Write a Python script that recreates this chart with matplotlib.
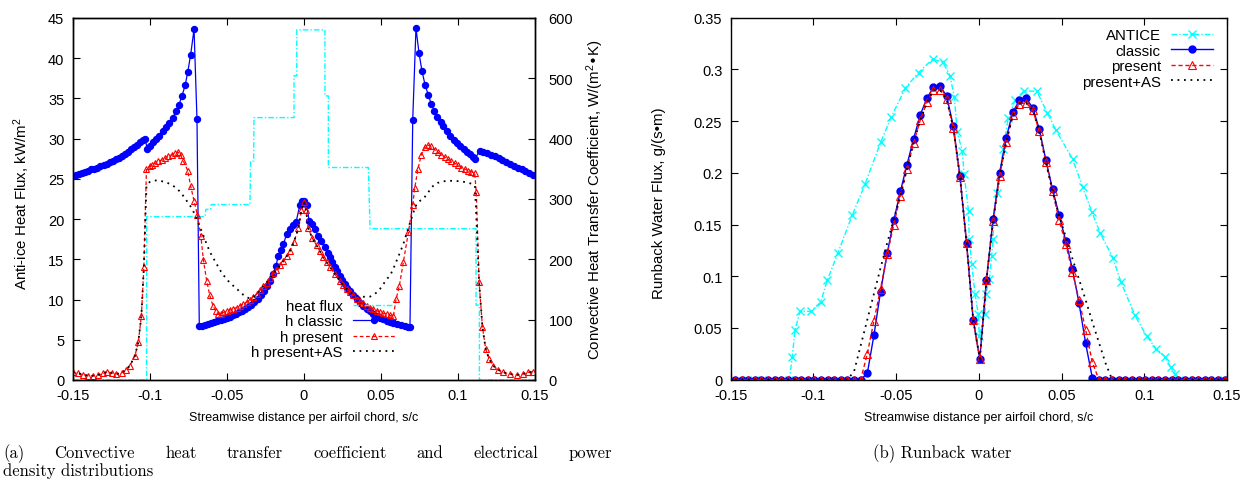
import matplotlib
matplotlib.use("Agg")
import matplotlib.pyplot as plt

plt.rcParams['font.family'] = ['Liberation Sans', 'DejaVu Sans']
plt.rcParams['mathtext.default'] = 'regular'
plt.rcParams['axes.unicode_minus'] = False

# ---------------------------------------- #
#   (a) heat flux and h over the airfoil   #
# ---------------------------------------- #
# heater power density, kW/m^2 (step profile)
flux_x = [-0.150, -0.1020, -0.1020, -0.0641, -0.0635, -0.0605, -0.0600, -0.0349, -0.0345, -0.0325,
          -0.0323, -0.0063, -0.0063, -0.0045, -0.0045, 0.0138, 0.0138, 0.0160, 0.0160, 0.0420,
          0.0431, 0.1119, 0.1119, 0.1141, 0.1141, 0.150]
flux_y = [0, 0, 20.3, 20.3, 21.2, 21.2, 21.8, 21.8, 27.2, 27.2,
          32.6, 32.6, 37.8, 37.8, 43.5, 43.5, 35.3, 35.3, 26.4, 26.4,
          18.8, 18.8, 9.3, 9.3, 0, 0]

# h classic, W/(m^2 K)
hc_x = [-0.150, -0.148, -0.146, -0.144, -0.142, -0.140, -0.138, -0.136, -0.134, -0.132,
        -0.130, -0.128, -0.126, -0.124, -0.122, -0.120, -0.118, -0.116, -0.114, -0.112,
        -0.110, -0.108, -0.106, -0.1045, -0.1030, -0.1016, -0.0998, -0.0977, -0.0956, -0.0938,
        -0.0916, -0.0894, -0.0873, -0.0851, -0.0831, -0.0810, -0.0790, -0.0770, -0.0753, -0.0734,
        -0.0712, -0.0693, -0.0678, -0.0660, -0.0640, -0.0620, -0.0600, -0.0580, -0.0560, -0.0540,
        -0.0520, -0.0500, -0.0480, -0.0460, -0.0440, -0.0420, -0.0400, -0.0380, -0.0360, -0.0340,
        -0.0320, -0.0300, -0.0280, -0.0260, -0.0240, -0.0220, -0.0200, -0.0180, -0.0165, -0.0150,
        -0.0132, -0.0110, -0.0089, -0.0070, -0.0050, -0.0025, -0.0010, 0.0005, 0.0020, 0.0035,
        0.0052, 0.0073, 0.0094, 0.0115, 0.0137, 0.0155, 0.0169, 0.0185, 0.0202, 0.0218,
        0.0234, 0.0250, 0.0267, 0.0284, 0.0300, 0.0320, 0.0343, 0.0365, 0.0387, 0.0409,
        0.0430, 0.0452, 0.0474, 0.0496, 0.0518, 0.0539, 0.0560, 0.0582, 0.0604, 0.0630,
        0.0658, 0.0680, 0.0690, 0.0708, 0.0729, 0.0749, 0.0768, 0.0788, 0.0809, 0.0827,
        0.0848, 0.0868, 0.0890, 0.0907, 0.0930, 0.0953, 0.0975, 0.0997, 0.1018, 0.1040,
        0.1060, 0.1080, 0.1100, 0.1112, 0.1143, 0.1165, 0.1190, 0.1215, 0.1240, 0.1265,
        0.1290, 0.1315, 0.1340, 0.1365, 0.1390, 0.1415, 0.1440, 0.1465, 0.1490]
hc_y = [338, 339, 341, 343, 345, 347, 349, 350, 352, 354,
        356, 358, 361, 363, 366, 368, 371, 374, 378, 382,
        386, 390, 394, 397, 399, 383, 388, 394, 399, 405,
        412, 419, 426, 434, 445, 456, 471, 488, 510, 539,
        581, 432, 89, 90, 91, 92.5, 94, 95.5, 97, 99,
        101, 103, 105, 107, 109, 112, 114.5, 117.5, 121, 125,
        129, 134, 140, 147, 155, 164, 175, 189, 206, 215,
        225, 242, 250, 256, 261, 290, 297, 297, 290, 264,
        258, 250, 239, 231, 220, 211, 203, 195, 187, 180,
        173, 166, 159, 153, 148, 141, 134, 128, 122, 117.5,
        113.5, 110, 106.5, 103.5, 100.5, 98, 96, 94.5, 93, 91,
        89, 87.5, 87, 431, 583, 541, 512, 489, 472, 458,
        446, 436, 427, 420, 412, 405, 398, 392, 388, 383,
        378, 374, 369, 366, 380, 378, 376, 373, 370.5, 367.5,
        364, 361, 358, 355, 352, 349, 346, 343, 340]

# h present
hp_x = [-0.1500, -0.1464, -0.1431, -0.1399, -0.1366, -0.1334, -0.1301, -0.1275, -0.1247, -0.1216,
        -0.1183, -0.1155, -0.1128, -0.1096, -0.1074, -0.1054, -0.1038, -0.1021, -0.1000, -0.0987,
        -0.0966, -0.0944, -0.0922, -0.0901, -0.0879, -0.0857, -0.0836, -0.0814, -0.0799, -0.0782,
        -0.0753, -0.0734, -0.0712, -0.0690, -0.0668, -0.0651, -0.0630, -0.0610, -0.0589, -0.0570,
        -0.0556, -0.0540, -0.0522, -0.0500, -0.0479, -0.0457, -0.0435, -0.0413, -0.0392, -0.0370,
        -0.0349, -0.0327, -0.0305, -0.0283, -0.0262, -0.0240, -0.0219, -0.0198, -0.0177, -0.0155,
        -0.0132, -0.0110, -0.0089, -0.0063, -0.0035, -0.0015, 0.0000, 0.0015, 0.0030, 0.0056,
        0.0084, 0.0106, 0.0127, 0.0149, 0.0171, 0.0203, 0.0236, 0.0258, 0.0279, 0.0300,
        0.0322, 0.0344, 0.0366, 0.0387, 0.0409, 0.0430, 0.0452, 0.0474, 0.0496, 0.0517,
        0.0539, 0.0560, 0.0582, 0.0600, 0.0621, 0.0647, 0.0680, 0.0708, 0.0721, 0.0742,
        0.0764, 0.0786, 0.0807, 0.0829, 0.0851, 0.0872, 0.0894, 0.0916, 0.0937, 0.0959,
        0.0981, 0.1002, 0.1024, 0.1045, 0.1067, 0.1089, 0.1110, 0.1121, 0.1139, 0.1161,
        0.1182, 0.1204, 0.1230, 0.1263, 0.1295, 0.1339, 0.1382, 0.1426, 0.1458, 0.1491]
hp_y = [12.7, 11, 8.8, 7.1, 7.1, 8.3, 11, 13.7, 11.6, 10,
        11.6, 17, 24, 40, 62.5, 106.5, 187, 350, 354, 356,
        359, 362, 364.5, 367, 370.5, 373, 376, 377, 372, 363,
        347, 321, 297, 273, 239, 198, 164.5, 140, 123, 114,
        109, 110, 112, 114, 116, 118, 120, 123, 126, 129,
        133, 137.5, 142.5, 148.5, 155, 161.5, 168.5, 176.5, 183, 190,
        197, 205, 214, 229, 251, 281, 295, 281, 251, 235,
        223, 213, 203, 195, 187, 175, 164, 157, 151, 145,
        140, 135, 131, 127, 123, 120, 117.5, 115, 112, 110.5,
        109, 107, 105.5, 134, 156, 195, 245, 290, 318, 350,
        373, 385.6, 389, 387, 381.6, 377, 373, 369.5, 366, 362,
        359, 356, 352, 349.6, 347, 345, 343, 311, 162, 87,
        51, 35, 23.7, 17, 12.7, 10, 8.3, 10, 12.7, 13.7]

# h present+AS
hs_x = [-0.1500, -0.1464, -0.1431, -0.1399, -0.1366, -0.1334, -0.1301, -0.1275, -0.1247, -0.1216,
        -0.1183, -0.1155, -0.1128, -0.1096, -0.1074, -0.1054, -0.1038, -0.1021, -0.1000, -0.0970,
        -0.0940, -0.0910, -0.0880, -0.0850, -0.0826, -0.0800, -0.0782, -0.0760, -0.0738, -0.0716,
        -0.0695, -0.0673, -0.0651, -0.0630, -0.0608, -0.0587, -0.0565, -0.0543, -0.0522, -0.0500,
        -0.0479, -0.0457, -0.0435, -0.0413, -0.0392, -0.0370, -0.0349, -0.0327, -0.0305, -0.0283,
        -0.0262, -0.0240, -0.0219, -0.0198, -0.0177, -0.0155, -0.0132, -0.0110, -0.0089, -0.0063,
        -0.0035, -0.0015, 0.0000, 0.0015, 0.0030, 0.0056, 0.0084, 0.0106, 0.0127, 0.0149,
        0.0171, 0.0203, 0.0236, 0.0258, 0.0279, 0.0300, 0.0322, 0.0344, 0.0366, 0.0387,
        0.0409, 0.0430, 0.0452, 0.0474, 0.0496, 0.0518, 0.0539, 0.0561, 0.0583, 0.0604,
        0.0626, 0.0648, 0.0670, 0.0691, 0.0713, 0.0734, 0.0756, 0.0777, 0.0800, 0.0820,
        0.0842, 0.0870, 0.0900, 0.0951, 0.1000, 0.1059, 0.1090, 0.1112, 0.1139, 0.1161,
        0.1182, 0.1204, 0.1230, 0.1263, 0.1295, 0.1339, 0.1382, 0.1426, 0.1458, 0.1491]
hs_y = [12.7, 11, 8.8, 7.1, 7.1, 8.3, 11, 13.7, 11.6, 10,
        11.6, 17, 24, 40, 62.5, 106.5, 187, 322, 328, 330.5,
        330.5, 328.5, 326, 322, 318, 311, 305, 297, 289, 279,
        267, 253, 239, 225, 211.6, 202, 192, 182, 174, 167,
        161, 156, 151, 146, 141, 137, 135, 137.5, 142.5, 148.5,
        155, 161.5, 168.5, 176.5, 183, 190, 197, 205, 214, 229,
        251, 281, 295, 281, 251, 235, 223, 213, 203, 195,
        187, 175, 164, 157, 151, 146, 142, 140, 139, 138,
        137.5, 138, 141, 145, 151, 159, 167, 173, 185, 198,
        211.6, 226, 244, 261, 278, 292, 297, 300, 308, 315,
        322, 326.5, 329, 330, 329.5, 327.6, 325, 322, 162, 87,
        51, 35, 23.7, 17, 12.7, 10, 8.3, 10, 12.7, 13.7]

# ---------------------------------------- #
#        (b) runback water flux            #
# ---------------------------------------- #
run_x = [-0.1474, -0.1434, -0.1394, -0.1354, -0.1314, -0.1274, -0.1234, -0.1194, -0.1154, -0.1114,
         -0.1074, -0.1034, -0.0994, -0.0954, -0.0914, -0.0874, -0.0834, -0.0794, -0.0754, -0.0714,
         -0.0674, -0.0634, -0.0594, -0.0554, -0.0514, -0.0474, -0.0434, -0.0394, -0.0354, -0.0314,
         -0.0274, -0.0234, -0.0194, -0.0154, -0.0114, -0.0074, -0.0034, 0.0006, 0.0046, 0.0086,
         0.0126, 0.0166, 0.0206, 0.0246, 0.0286, 0.0326, 0.0366, 0.0406, 0.0446, 0.0486,
         0.0526, 0.0566, 0.0606, 0.0646, 0.0686, 0.0726, 0.0766, 0.0806, 0.0846, 0.0886,
         0.0926, 0.0966, 0.1006, 0.1046, 0.1086, 0.1126, 0.1166, 0.1206, 0.1246, 0.1286,
         0.1326, 0.1366, 0.1406, 0.1446, 0.1486]
run_classic = [0, 0, 0, 0, 0, 0, 0, 0, 0, 0,
               0, 0, 0, 0, 0, 0, 0, 0, 0, 0,
               0.006, 0.043, 0.085, 0.122, 0.154, 0.182, 0.208, 0.233, 0.256, 0.272,
               0.283, 0.284, 0.274, 0.245, 0.197, 0.132, 0.058, 0.020, 0.096, 0.155,
               0.200, 0.234, 0.259, 0.270, 0.272, 0.263, 0.242, 0.212, 0.184, 0.159,
               0.134, 0.107, 0.074, 0.035, 0.002, 0, 0, 0, 0, 0,
               0, 0, 0, 0, 0, 0, 0, 0, 0, 0,
               0, 0, 0, 0, 0]
run_present = [0, 0, 0, 0, 0, 0, 0, 0, 0, 0,
               0, 0, 0, 0, 0, 0, 0, 0, 0, 0,
               0.025, 0.057, 0.088, 0.121, 0.150, 0.178, 0.204, 0.229, 0.251, 0.268,
               0.280, 0.280, 0.271, 0.243, 0.196, 0.132, 0.058, 0.020, 0.096, 0.153,
               0.197, 0.230, 0.256, 0.267, 0.2675, 0.261, 0.240, 0.210, 0.182, 0.154,
               0.131, 0.104, 0.077, 0.048, 0.017, 0, 0, 0, 0, 0,
               0, 0, 0, 0, 0, 0, 0, 0, 0, 0,
               0, 0, 0, 0, 0]
run_as = [0, 0, 0, 0, 0, 0, 0, 0, 0, 0,
          0, 0, 0, 0, 0, 0, 0, 0, 0.008, 0.033,
          0.058, 0.083, 0.108, 0.132, 0.155, 0.178, 0.204, 0.229, 0.251, 0.268,
          0.280, 0.280, 0.271, 0.243, 0.196, 0.132, 0.058, 0.020, 0.096, 0.153,
          0.197, 0.230, 0.256, 0.267, 0.2675, 0.261, 0.240, 0.210, 0.182, 0.158,
          0.138, 0.117, 0.097, 0.077, 0.056, 0.036, 0.016, 0, 0, 0,
          0, 0, 0, 0, 0, 0, 0, 0, 0, 0,
          0, 0, 0, 0, 0]

ant_x = [-0.1490, -0.1400, -0.1310, -0.1220, -0.1145, -0.1128, -0.1111, -0.1081, -0.1015, -0.0956,
         -0.0916, -0.0853, -0.0765, -0.0688, -0.0592, -0.0529, -0.0444, -0.0364, -0.0279, -0.0218,
         -0.0174, -0.0148, -0.0130, -0.0100, -0.0089, -0.0062, -0.0058, -0.0043, -0.0023, -0.0003,
         0.0003, 0.0037, 0.0043, 0.0064, 0.0078, 0.0086, 0.0090, 0.0108, 0.0148, 0.0178,
         0.0219, 0.0271, 0.0350, 0.0414, 0.0467, 0.0568, 0.0628, 0.0684, 0.0733, 0.0810,
         0.0860, 0.0944, 0.1015, 0.1071, 0.1126, 0.1160, 0.1186, 0.1210, 0.1300, 0.1390,
         0.1480]
ant_y = [0, 0, 0, 0, 0, 0.022, 0.048, 0.066, 0.066, 0.075,
         0.096, 0.122, 0.159, 0.189, 0.230, 0.254, 0.282, 0.297, 0.310, 0.307,
         0.294, 0.273, 0.239, 0.221, 0.199, 0.163, 0.136, 0.112, 0.083, 0.063,
         0.042, 0.063, 0.083, 0.097, 0.120, 0.136, 0.152, 0.180, 0.223, 0.253,
         0.270, 0.279, 0.279, 0.258, 0.241, 0.213, 0.186, 0.162, 0.142, 0.118,
         0.094, 0.062, 0.042, 0.030, 0.022, 0.012, 0.005, 0, 0, 0,
         0]

s_ticks = [-0.15, -0.1, -0.05, 0, 0.05, 0.1, 0.15]
s_labels = ['-0.15', '-0.1', '-0.05', '0', '0.05', '0.1', '0.15']
flux_ticks = [0, 5, 10, 15, 20, 25, 30, 35, 40, 45]
h_ticks = [0, 100, 200, 300, 400, 500, 600]
run_ticks = [0, 0.05, 0.1, 0.15, 0.2, 0.25, 0.3, 0.35]
run_labels = ['0', '0.05', '0.1', '0.15', '0.2', '0.25', '0.3', '0.35']

CYAN, BLUE, RED = '#00FFFF', '#0000FF', '#FF0000'
DASHDOT = (0, (4, 1.5, 1, 1.5))
DASHED = (0, (3, 2))
DOTTED = (0, (1, 2.6))

W, H = 1244, 485
fig = plt.figure(figsize=(W / 100, H / 100), dpi=100)


def axes_px(x0, y0, x1, y1):
    return fig.add_axes([x0 / W, 1 - y1 / H, (x1 - x0) / W, (y1 - y0) / H])


def style_ticks(a, **kw):
    a.tick_params(direction='in', length=5, width=0.8, labelsize=10.5, pad=6, **kw)
    for sp in a.spines.values():
        sp.set_linewidth(1.0)


def justify(text, x0, x1, y, **kw):
    # spread words so the line fills x0..x1 (pixels)
    r = fig.canvas.get_renderer()
    words = text.split()
    widths = []
    for w in words:
        t = fig.text(0, 0, w, **kw)
        widths.append(t.get_window_extent(r).width)
        t.remove()
    gap = (x1 - x0 - sum(widths)) / (len(words) - 1)
    x = x0
    for w, wd in zip(words, widths):
        fig.text(x / W, 1 - y / H, w, va='baseline', **kw)
        x += wd + gap


LEG = dict(bbox_transform=fig.transFigure, frameon=False, markerfirst=False, loc='upper right',
           fontsize=10.8, handlelength=2.8, handletextpad=0.7, labelspacing=0.1,
           borderpad=0, borderaxespad=0)

# ----- left panel -----
ax = axes_px(72.7, 18.8, 534.7, 381)
ax2 = ax.twinx()
fl, = ax.plot(flux_x, flux_y, color=CYAN, lw=1.0, ls=DASHDOT)
l1, = ax2.plot(hc_x, hc_y, color=BLUE, lw=0.9, marker='o', ms=4.3, mec=BLUE, mfc=BLUE)
l2, = ax2.plot(hp_x, hp_y, color=RED, lw=0.9, ls=DASHED, marker='^', ms=5, mfc='none',
               mec=RED, mew=0.8)
l3, = ax2.plot(hs_x, hs_y, color='black', lw=1.3, ls=DOTTED)

ax.set_xlim(-0.15, 0.15)
ax.set_ylim(0, 45)
ax2.set_ylim(0, 600)
ax.set_xticks(s_ticks, s_labels)
ax.set_yticks(flux_ticks)
ax2.set_yticks(h_ticks)
style_ticks(ax, top=True, right=False)
style_ticks(ax2)
ax2.tick_params(axis='y', pad=10)

ax.set_xlabel('Streamwise distance per airfoil chord, s/c', fontsize=9)
ax.set_ylabel('Anti-ice Heat Flux, kW/m$^2$', fontsize=10.8)
ax2.set_ylabel('Convective Heat Transfer Coefficient, W/(m$^2$\u2022K)', fontsize=10.8)
for lab in (ax.xaxis.label, ax.yaxis.label, ax2.yaxis.label):
    lab.set(ha='center', va='center', rotation_mode='default')
ax.xaxis.set_label_coords(0.5, -0.103)
ax.yaxis.set_label_coords(-0.111, 0.49)
ax2.yaxis.set_label_coords(1.131, 0.5)

ax2.legend([fl, l1, l2, l3], ['heat flux', 'h classic', 'h present', 'h present+AS'],
           bbox_to_anchor=(395 / W, 1 - 300 / H), **LEG)

# ----- right panel -----
axr = axes_px(730.7, 18.7, 1226.9, 380.6)
r0, = axr.plot(ant_x, ant_y, color=CYAN, lw=1.0, ls=DASHDOT, marker='x', ms=6, mew=1.0)
r1, = axr.plot(run_x, run_classic, color=BLUE, lw=1.0, marker='o', ms=5, mec=BLUE, mfc=BLUE)
r2, = axr.plot(run_x, run_present, color=RED, lw=1.0, ls=DASHED, marker='^', ms=5.5,
               mfc='none', mec=RED, mew=0.8)
r3, = axr.plot(run_x, run_as, color='black', lw=1.3, ls=DOTTED)

axr.set_xlim(-0.15, 0.15)
axr.set_ylim(0, 0.35)
axr.set_xticks(s_ticks, s_labels)
axr.set_yticks(run_ticks, run_labels)
style_ticks(axr, top=True, right=True)
axr.set_xlabel('Streamwise distance per airfoil chord, s/c', fontsize=9)
axr.set_ylabel('Runback Water Flux, g/(s\u2022m)', fontsize=10.8)
for lab in (axr.xaxis.label, axr.yaxis.label):
    lab.set(ha='center', va='center', rotation_mode='default')
axr.xaxis.set_label_coords(0.5, -0.103)
axr.yaxis.set_label_coords(-0.1445, 0.49)

axr.legend([r0, r1, r2, r3], ['ANTICE', 'classic', 'present', 'present+AS'],
           bbox_to_anchor=(1213.3 / W, 1 - 29 / H), **LEG)

# ----- captions -----
cap = dict(family='cmr10', fontsize=12)
justify('(a) Convective heat transfer coefficient and electrical power', 3, 612, 458, **cap)
fig.text(3 / W, 1 - 476.5 / H, 'density distributions', va='baseline', **cap)
fig.text(942.5 / W, 1 - 458 / H, '(b) Runback water', ha='center', va='baseline', **cap)

fig.savefig('out.png', dpi=100)
